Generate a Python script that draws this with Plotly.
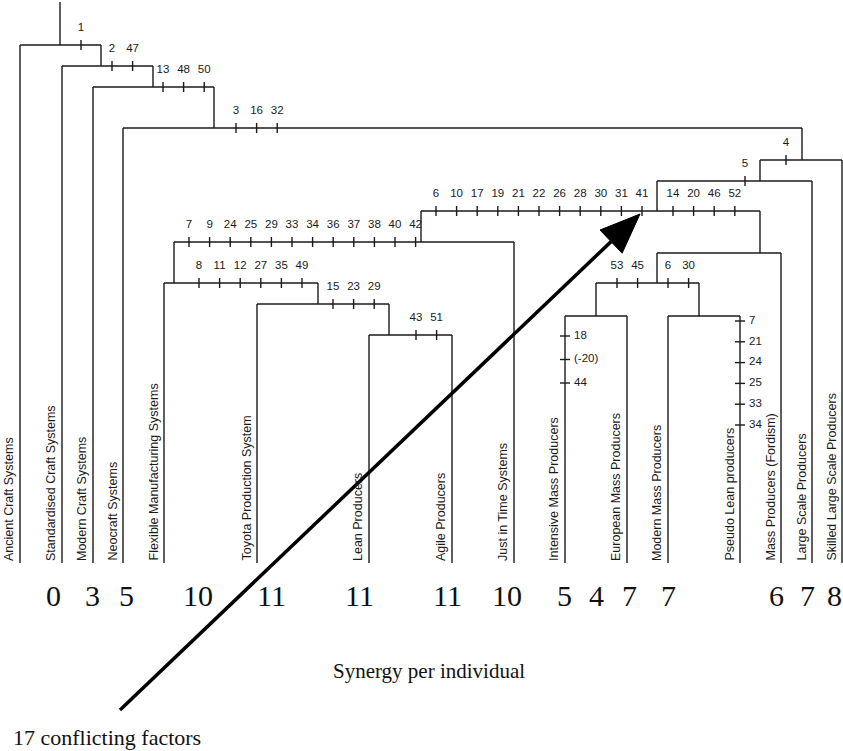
import plotly.graph_objects as go

# ---------------- data ----------------
leaf_names = [
    "Ancient Craft Systems", "Standardised Craft Systems", "Modern Craft Systems",
    "Neocraft Systems", "Flexible Manufacturing Systems", "Toyota Production System",
    "Lean Producers", "Agile Producers", "Just in Time Systems",
    "Intensive Mass Producers", "European Mass Producers", "Modern Mass Producers",
    "Pseudo Lean producers", "Mass Producers (Fordism)", "Large Scale Producers",
    "Skilled Large Scale Producers",
]
leaf_x = [20, 62, 93, 123, 164, 257, 369, 452, 514, 565, 627, 668, 740, 781, 812, 842]

# internal nodes of the cladogram
node_ids = ["N1", "N2", "N3", "N4", "N5", "N6", "N7", "N8", "N10", "N11", "N12",
            "N9", "N13", "N14", "N15"]
node_level = [45, 66, 87, 128, 160, 181, 211, 242, 283, 304, 335, 253, 283, 316, 316]
node_attach = [60, 101, 153, 214, 802, 760, 657, 421, 174, 318, 389, 760, 657, 596, 699]
node_children = [
    ["Ancient Craft Systems", "N2"],
    ["Standardised Craft Systems", "N3"],
    ["Modern Craft Systems", "N4"],
    ["Neocraft Systems", "N5"],
    ["N6", "Skilled Large Scale Producers"],
    ["N7", "Large Scale Producers"],
    ["N8", "N9"],
    ["N10", "Just in Time Systems"],
    ["Flexible Manufacturing Systems", "N11"],
    ["Toyota Production System", "N12"],
    ["Lean Producers", "Agile Producers"],
    ["N13", "Mass Producers (Fordism)"],
    ["N14", "N15"],
    ["Intensive Mass Producers", "European Mass Producers"],
    ["Modern Mass Producers", "Pseudo Lean producers"],
]
root_top = 2
leaf_bottom = 563

# character changes on horizontal branches
branch_chars = [
    ["1"], ["2", "47"], ["13", "48", "50"], ["3", "16", "32"], ["4"], ["5"],
    ["6", "10", "17", "19", "21", "22", "26", "28", "30", "31", "41"],
    ["14", "20", "46", "52"],
    ["7", "9", "24", "25", "29", "33", "34", "36", "37", "38", "40", "42"],
    ["8", "11", "12", "27", "35", "49"],
    ["15", "23", "29"], ["43", "51"], ["53", "45"], ["6", "30"],
]
branch_level = [45, 66, 87, 128, 160, 181, 211, 211, 242, 283, 304, 335, 283, 283]
branch_start = [81, 112, 163, 236, 786, 745, 436, 673, 189, 199, 333, 416, 617, 668]
tick_step = 20.6

# character changes on vertical (terminal) branches
leaf_chars = [["18", "(-20)", "44"], ["7", "21", "24", "25", "33", "34"]]
leaf_chars_x = [565, 740]
leaf_chars_start = [336, 321]
leaf_chars_step = [23.5, 20.8]

synergy_values = ["0", "3", "5", "10", "11", "11", "11", "10", "5", "4", "7", "7", "6", "7", "8"]
synergy_x = [53, 92, 126, 198, 271, 359, 447, 507, 564, 596, 629, 668, 776, 807, 834]

arrow_start = (120, 710)
arrow_tip = (640, 214)

# ---------------- build ----------------
leaf_pos = dict(zip(leaf_names, leaf_x))
nodes = {n: (lv, ax, ch) for n, lv, ax, ch in zip(node_ids, node_level, node_attach, node_children)}

lx, ly = [], []


def seg(x0, y0, x1, y1):
    lx.extend([x0, x1, None])
    ly.extend([y0, y1, None])


def attach_x(name):
    return leaf_pos[name] if name in leaf_pos else nodes[name][1]


for n, (lv, ax, ch) in nodes.items():
    xs = [attach_x(c) for c in ch]
    seg(min(xs), lv, max(xs), lv)
    for c in ch:
        if c in leaf_pos:
            seg(leaf_pos[c], lv, leaf_pos[c], leaf_bottom)
        else:
            seg(nodes[c][1], lv, nodes[c][1], nodes[c][0])
# root stem
seg(nodes["N1"][1], root_top, nodes["N1"][1], nodes["N1"][0])

tx, ty, tt = [], [], []
for chars, lv, x0 in zip(branch_chars, branch_level, branch_start):
    for i, c in enumerate(chars):
        x = x0 + i * tick_step
        seg(x, lv - 5, x, lv + 5)
        tx.append(x)
        ty.append(lv - 17)
        tt.append(c)

vx, vy, vt = [], [], []
for chars, x, y0, st in zip(leaf_chars, leaf_chars_x, leaf_chars_start, leaf_chars_step):
    for i, c in enumerate(chars):
        y = y0 + i * st
        seg(x - 5, y, x + 5, y)
        vx.append(x + 9)
        vy.append(y)
        vt.append(c)

fig = go.Figure()
fig.add_trace(go.Scatter(x=lx, y=ly, mode="lines",
                         line=dict(color="#1a1a1a", width=1.4), hoverinfo="skip"))
fig.add_trace(go.Scatter(x=tx, y=ty, mode="text", text=tt, textposition="middle center",
                         textfont=dict(family="Liberation Sans, Arial", size=11.5, color="#1a1a1a"),
                         hoverinfo="skip"))
fig.add_trace(go.Scatter(x=vx, y=vy, mode="text", text=vt, textposition="middle right",
                         textfont=dict(family="Liberation Sans, Arial", size=11.5, color="#1a1a1a"),
                         hoverinfo="skip"))

# arrow
sx, sy = arrow_start
ex, ey = arrow_tip
dx, dy = ex - sx, ey - sy
L = (dx * dx + dy * dy) ** 0.5
ux, uy = dx / L, dy / L
px_, py_ = -uy, ux
head_len, head_w = 40, 16
bx, by = ex - head_len * ux, ey - head_len * uy
fig.add_trace(go.Scatter(x=[sx, bx], y=[sy, by], mode="lines",
                         line=dict(color="black", width=3.5), hoverinfo="skip"))
fig.add_trace(go.Scatter(x=[ex, bx + head_w * px_, bx - head_w * px_, ex],
                         y=[ey, by + head_w * py_, by - head_w * py_, ey],
                         mode="lines", fill="toself", fillcolor="black",
                         line=dict(color="black", width=1), hoverinfo="skip"))

annotations = []
for name, x in zip(leaf_names, leaf_x):
    annotations.append(dict(x=x - 2, y=leaf_bottom, xref="x", yref="y", text=name,
                            textangle=-90, xanchor="right", yanchor="bottom", showarrow=False,
                            font=dict(family="Liberation Sans, Arial", size=12.5, color="#1a1a1a")))
for v, x in zip(synergy_values, synergy_x):
    annotations.append(dict(x=x, y=595, xref="x", yref="y", text=v, showarrow=False,
                            xanchor="center", yanchor="middle",
                            font=dict(family="Liberation Serif, Times New Roman", size=30, color="#111")))
annotations.append(dict(x=429, y=671, xref="x", yref="y", text="Synergy per individual",
                        showarrow=False, xanchor="center", yanchor="middle",
                        font=dict(family="Liberation Serif, Times New Roman", size=21, color="#111")))
annotations.append(dict(x=11, y=737, xref="x", yref="y", text="17 conflicting factors",
                        showarrow=False, xanchor="left", yanchor="middle",
                        font=dict(family="Liberation Serif, Times New Roman", size=22, color="#111")))

fig.update_layout(
    width=843, height=751,
    margin=dict(l=0, r=0, t=0, b=0),
    paper_bgcolor="white", plot_bgcolor="white",
    showlegend=False,
    xaxis=dict(range=[0, 843], visible=False, fixedrange=True),
    yaxis=dict(range=[751, 0], visible=False, fixedrange=True),
    annotations=annotations,
)

fig.write_html(
    "out.html",
    config={"displayModeBar": False},
    post_script="document.body.style.margin='0';document.body.style.overflow='hidden';",
)
